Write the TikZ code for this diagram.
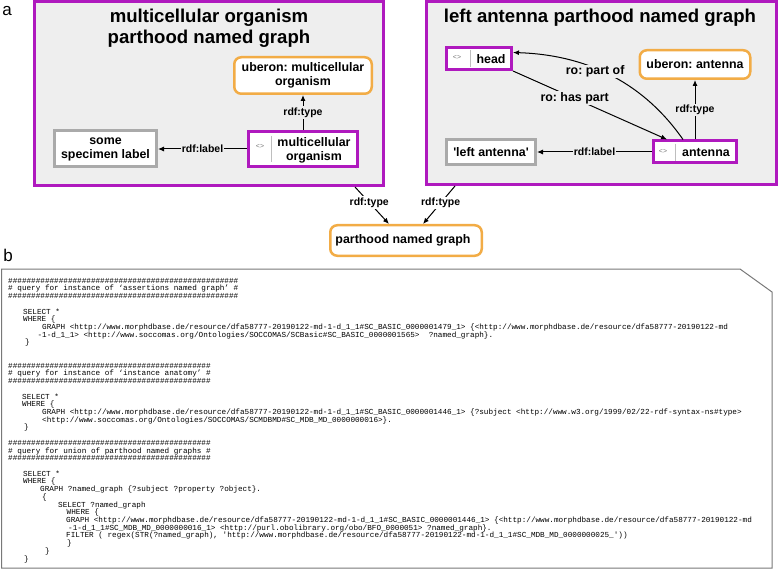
\documentclass[tikz,border=0pt]{standalone}
\usepackage{fontspec}
\setmainfont{Liberation Sans}
\setmonofont{Liberation Mono}
\usetikzlibrary{arrows.meta}
\ExplSyntaxOn
\cs_new:Npn \hashrow #1 {\prg_replicate:nn{#1}{\#}}
\ExplSyntaxOff
\frenchspacing
\definecolor{pp}{RGB}{175,25,190}
\definecolor{og}{RGB}{242,172,70}
\definecolor{gr}{RGB}{170,170,170}
\definecolor{bgg}{RGB}{238,238,238}
\definecolor{icg}{RGB}{120,120,120}
\definecolor{dvg}{RGB}{190,190,190}
\definecolor{frg}{RGB}{120,120,120}
\newcommand\cln[3]{\node[codeln] (c#1) at (#2,{281+(#1-1)*7.72+2.2}) {#3};}
\begin{document}
\begin{tikzpicture}[x=1pt,y=-1pt,
  panel/.style={draw=pp,line width=3pt,fill=bgg,inner sep=0pt},
  ptitle/.style={font=\fontsize{18.6}{21}\selectfont\bfseries,align=center,inner sep=0pt},
  inst/.style={draw=pp,line width=3pt,fill=white,inner sep=0pt},
  cls/.style={draw=og,line width=2.5pt,fill=white,rounded corners=7pt,inner sep=0pt,font=\fontsize{12.4}{14.3}\selectfont\bfseries,align=center},
  lit/.style={draw=gr,line width=3pt,fill=white,inner sep=0pt,font=\fontsize{12.4}{14}\selectfont\bfseries,align=center},
  ntext/.style={font=\fontsize{12.4}{14}\selectfont\bfseries,align=center,inner sep=0pt},
  ic/.style={font=\fontsize{7}{8}\selectfont,text=icg,inner sep=0pt},
  divl/.style={draw=dvg,line width=0.8pt},
  elab/.style={font=\fontsize{10.5}{12}\selectfont\bfseries,fill=bgg,inner sep=1.2pt},
  rlab/.style={font=\fontsize{12.4}{14}\selectfont\bfseries,fill=bgg,inner sep=1.2pt},
  conn/.style={draw=black,line width=1pt,-{Latex[length=6pt,width=5pt]}},
  codeln/.style={anchor=base west,inner sep=0pt,font=\ttfamily\fontsize{7.67}{7.72}\selectfont},
  plab/.style={font=\fontsize{17}{19}\selectfont,inner sep=0pt}]
\useasboundingbox (0,0) rectangle (778,569);

% panels
\node[panel,minimum width=349pt,minimum height=184pt] (lp) at (209,93.5) {};
\node[panel,minimum width=350pt,minimum height=183pt] (rp) at (601.5,93) {};
\node[ptitle] (lt) at (209,28) {multicellular organism\\parthood named graph};
\node[ptitle] (rt) at (600,18) {left antenna parthood named graph};

% left panel content
\node[cls,minimum width=137.5pt,minimum height=36.5pt] (ubmo) at (303,75.5) {uberon: multicellular\\organism};
\node[inst,minimum width=109pt,minimum height=35pt] (mo) at (303,149) {};
\node[ntext] (mot) at (314,150.3) {multicellular\\organism};
\node[ic] (moi) at (260,146) {<>};
\draw[divl] (271,136) -- (271,162);
\node[lit,minimum width=102pt,minimum height=36pt] (spec) at (105.5,149) {some\\specimen label};
\draw[conn] (mo) -- node[elab]{rdf:type} (ubmo);
\draw[conn] (mo) -- node[elab]{rdf:label} (spec);

% right panel content
\node[inst,minimum width=65pt,minimum height=22pt] (head) at (479,58.5) {};
\node[ntext] (headt) at (491,59.5) {head};
\node[ic] (headi) at (457,57) {<>};
\draw[divl] (470,50) -- (470,67);
\node[cls,minimum width=110.5pt,minimum height=28.5pt] (uban) at (695,64.5) {uberon: antenna};
\node[lit,minimum width=89pt,minimum height=25pt] (lant) at (491,152) {\textquotesingle left antenna\textquotesingle};
\node[inst,minimum width=83pt,minimum height=22pt] (ant) at (695,152) {};
\node[ntext] (antt) at (706,153) {antenna};
\node[ic] (anti) at (663,151) {<>};
\draw[divl] (675,144) -- (675,161);
\draw[conn] (ant) -- node[elab]{rdf:type} (uban);
\draw[conn] (ant) -- node[elab]{rdf:label} (lant);
\draw[conn] ([xshift=-12pt]ant.north) .. controls (645,85) and (590,55) .. node[rlab,pos=0.6,yshift=-3pt]{ro: part of} (head.10);
\draw[conn] (head.south east) -- node[rlab,pos=0.4]{ro: has part} ([xshift=-28pt]ant.north);

% bottom class
\node[cls,minimum width=151.5pt,minimum height=30.5pt] (png) at (406,240.5) {parthood named graph\hspace*{6pt}};
\draw[conn] ([xshift=146pt]lp.south) -- node[elab,fill=white,pos=0.42]{rdf:type} ([xshift=-17pt]png.north);
\draw[conn] ([xshift=-146.5pt]rp.south) -- node[elab,fill=white,pos=0.45]{rdf:type} ([xshift=17pt]png.north);

% panel letters
\node[plab] (la) at (7,11) {a};
\node[plab] (lb) at (8,255) {b};

% code frame
\draw[draw=frg,line width=1pt] (1.5,269) -- (740,269) -- (772,292) -- (772,568) -- (1.5,568) -- cycle;

% code lines
\cln{1}{8}{\hashrow{50}}
\cln{2}{8}{\# query for instance of ‘assertions named graph’ \#}
\cln{3}{8}{\hashrow{50}}
\cln{5}{23}{SELECT *}
\cln{6}{23}{WHERE \{}
\cln{7}{42}{GRAPH <http://www.morphdbase.de/resource/dfa58777-20190122-md-1-d\_1\_1\#SC\_BASIC\_0000001479\_1> \{<http://www.morphdbase.de/resource/dfa58777-20190122-md}
\cln{8}{37.4}{-1-d\_1\_1> <http://www.soccomas.org/Ontologies/SOCCOMAS/SCBasic\#SC\_BASIC\_0000001565>\ \ ?named\_graph\}.}
\cln{9}{25}{\}}
\cln{12}{8}{\hashrow{44}}
\cln{13}{8}{\# query for instance of ‘instance anatomy’ \#}
\cln{14}{8}{\hashrow{44}}
\cln{16}{22}{SELECT *}
\cln{17}{22}{WHERE \{}
\cln{18}{42}{GRAPH <http://www.morphdbase.de/resource/dfa58777-20190122-md-1-d\_1\_1\#SC\_BASIC\_0000001446\_1> \{?subject <http://www.w3.org/1999/02/22-rdf-syntax-ns\#type>}
\cln{19}{42}{<http://www.soccomas.org/Ontologies/SOCCOMAS/SCMDBMD\#SC\_MDB\_MD\_0000000016>\}.}
\cln{20}{24}{\}}
\cln{22}{8}{\hashrow{44}}
\cln{23}{8}{\# query for union of parthood named graphs \#}
\cln{24}{8}{\hashrow{44}}
\cln{26}{23}{SELECT *}
\cln{27}{23}{WHERE \{}
\cln{28}{40}{GRAPH ?named\_graph \{?subject ?property ?object\}.}
\cln{29}{42}{\{}
\cln{30}{58}{SELECT ?named\_graph}
\cln{31}{66.5}{WHERE \{}
\cln{32}{66}{GRAPH <http://www.morphdbase.de/resource/dfa58777-20190122-md-1-d\_1\_1\#SC\_BASIC\_0000001446\_1> \{<http://www.morphdbase.de/resource/dfa58777-20190122-md}
\cln{33}{68}{-1-d\_1\_1\#SC\_MDB\_MD\_0000000016\_1> <http://purl.obolibrary.org/obo/BFO\_0000051> ?named\_graph\}.}
\cln{34}{66}{FILTER ( regex(STR(?named\_graph), 'http://www.morphdbase.de/resource/dfa58777-20190122-md-1-d\_1\_1\#SC\_MDB\_MD\_0000000025\_'))}
\cln{35}{67}{\}}
\cln{36}{45}{\}}
\cln{37}{24}{\}}
\end{tikzpicture}
\end{document}
